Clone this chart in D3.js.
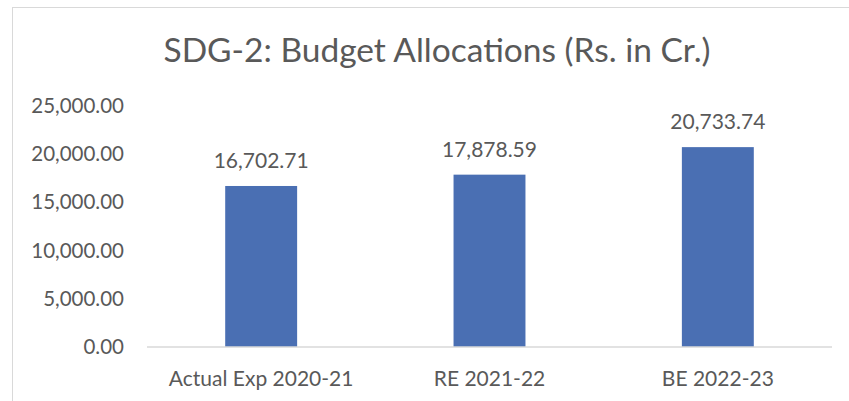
<!DOCTYPE html>
<html>
<head>
<meta charset="utf-8">
<script src="https://cdn.jsdelivr.net/npm/d3@7"></script>
<style>
  body { margin: 0; background: #fff; }
  text { font-family: Lato, "Open Sans", sans-serif; fill: #595959; }
</style>
</head>
<body>
<div id="chart"></div>
<script>
// data
const categories = ["Actual Exp 2020-21", "RE 2021-22", "BE 2022-23"];
const values = [16702.71, 17878.59, 20733.74];
const yTicks = [0, 5000, 10000, 15000, 20000, 25000];

const W = 849, H = 401;
const margin = { top: 106, right: 17, bottom: 54, left: 147 };

const svg = d3.select("#chart")
    .append("svg")
    .attr("width", W)
    .attr("height", H);

// outer chart border (only top and left are in frame)
svg.append("rect")
    .attr("x", 12.5)
    .attr("y", 7.5)
    .attr("width", W)
    .attr("height", H)
    .attr("fill", "#fff")
    .attr("stroke", "#d9d9d9");

svg.append("text")
    .attr("x", 437)
    .attr("y", 62)
    .attr("text-anchor", "middle")
    .style("font-size", "33.5px")
    .text("SDG-2: Budget Allocations (Rs. in Cr.)");

const x = d3.scaleBand()
    .domain(categories)
    .range([margin.left, W - margin.right])
    .paddingInner(0.685)
    .paddingOuter(0.3425);

const y = d3.scaleLinear()
    .domain([0, 25000])
    .range([H - margin.bottom, margin.top]);

const fmt = d3.format(",.2f");

// y axis labels
const yAxis = svg.append("g")
    .attr("transform", `translate(${margin.left},0)`)
    .call(d3.axisLeft(y).tickValues(yTicks).tickFormat(fmt).tickSize(0).tickPadding(23));
yAxis.select(".domain").remove();
yAxis.selectAll("text")
    .style("font-size", "20.5px")
    .style("font-family", null)
    .attr("fill", null);

// bars
svg.selectAll("rect.bar")
    .data(values)
    .join("rect")
    .attr("class", "bar")
    .attr("x", (d, i) => x(categories[i]))
    .attr("y", d => y(d))
    .attr("width", x.bandwidth())
    .attr("height", d => y(0) - y(d))
    .attr("fill", "#4a6fb3");

// value labels
svg.selectAll("text.val")
    .data(values)
    .join("text")
    .attr("class", "val")
    .attr("x", (d, i) => x(categories[i]) + x.bandwidth() / 2)
    .attr("y", d => y(d) - 18)
    .attr("text-anchor", "middle")
    .style("font-size", "21px")
    .text(d => fmt(d));

// baseline
svg.append("line")
    .attr("x1", margin.left)
    .attr("x2", W - margin.right)
    .attr("y1", y(0))
    .attr("y2", y(0))
    .attr("stroke", "#d9d9d9")
    .attr("stroke-width", 1.5);

// x axis labels
const xAxis = svg.append("g")
    .attr("transform", `translate(0,${y(0)})`)
    .call(d3.axisBottom(x).tickSize(0).tickPadding(24));
xAxis.select(".domain").remove();
xAxis.selectAll("text")
    .style("font-size", "21px")
    .style("font-family", null)
    .attr("fill", null);
</script>
</body>
</html>
